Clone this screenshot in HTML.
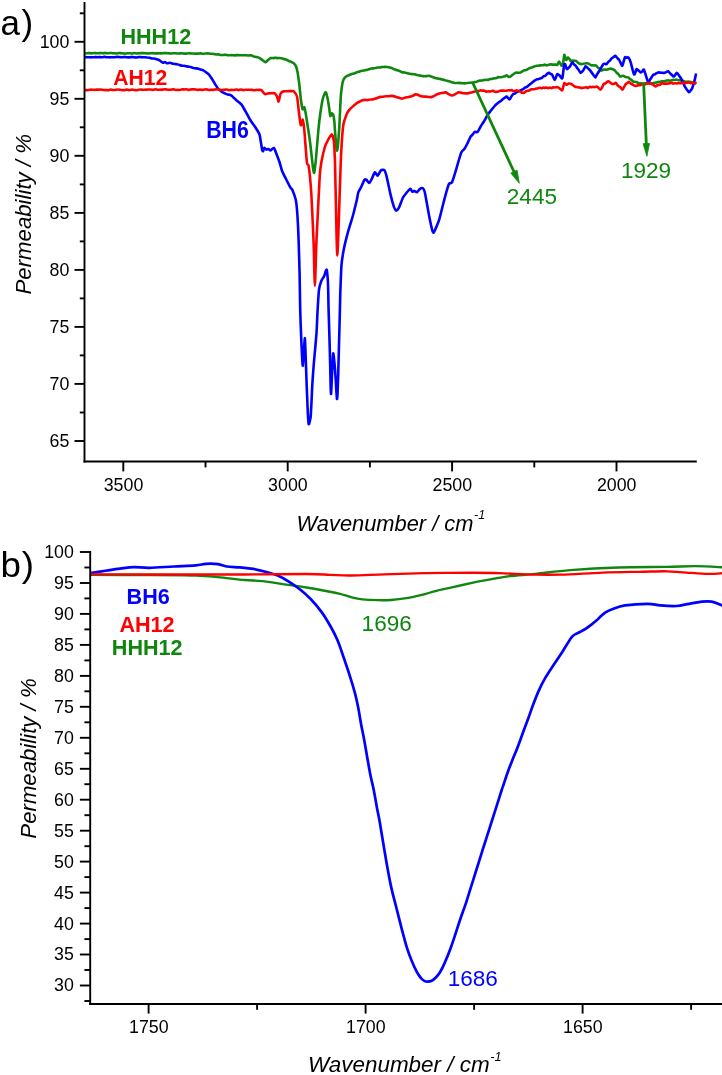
<!DOCTYPE html>
<html><head><meta charset="utf-8"><title>IR spectra</title>
<style>html,body{margin:0;padding:0;background:#fff}svg{display:block}text{font-family:"Liberation Sans",Arial,sans-serif}</style></head><body>
<svg width="722" height="1075" viewBox="0 0 722 1075">
<rect width="722" height="1075" fill="#fff"/>
<g id="panel-a">
<g>
<path d="M85.0 53.3 C85.2 53.3 86.7 53.2 87.2 53.2 C87.7 53.2 89.0 53.1 89.5 53.1 C90.0 53.1 91.2 53.4 91.7 53.4 C92.2 53.4 93.5 53.1 94.0 53.0 C94.5 53.0 95.7 53.3 96.2 53.3 C96.7 53.3 98.0 53.3 98.4 53.2 C98.9 53.2 100.2 53.0 100.7 53.0 C101.2 53.0 102.4 53.3 102.9 53.3 C103.4 53.3 104.7 53.0 105.2 53.0 C105.7 53.0 106.9 53.3 107.4 53.3 C107.9 53.3 109.2 53.1 109.7 53.0 C110.2 53.0 111.4 53.0 111.9 53.1 C112.4 53.1 113.6 53.2 114.1 53.3 C114.6 53.3 115.9 53.5 116.4 53.5 C116.9 53.5 118.1 53.1 118.6 53.1 C119.1 53.0 120.4 53.1 120.9 53.1 C121.4 53.2 122.6 53.3 123.1 53.4 C123.6 53.4 124.8 53.6 125.3 53.6 C125.8 53.6 127.1 53.4 127.6 53.3 C128.1 53.3 129.3 53.2 129.8 53.2 C130.3 53.3 131.6 53.6 132.1 53.6 C132.6 53.6 133.8 53.0 134.3 53.0 C134.8 53.0 136.1 53.5 136.6 53.5 C137.0 53.5 138.3 53.2 138.8 53.2 C139.3 53.1 140.5 53.1 141.0 53.1 C141.5 53.1 142.8 53.1 143.3 53.1 C143.8 53.1 145.0 53.1 145.5 53.2 C146.0 53.2 147.3 53.5 147.8 53.5 C148.3 53.5 149.5 53.3 150.0 53.3 C150.5 53.3 151.8 53.1 152.3 53.1 C152.8 53.1 154.1 53.3 154.6 53.4 C155.1 53.4 156.4 53.4 156.9 53.4 C157.4 53.4 158.7 53.3 159.2 53.3 C159.7 53.3 160.9 53.4 161.5 53.4 C162.0 53.4 163.2 53.1 163.8 53.1 C164.3 53.1 165.5 53.1 166.0 53.1 C166.6 53.1 167.8 53.1 168.3 53.2 C168.8 53.2 170.1 53.5 170.6 53.5 C171.1 53.5 172.4 53.4 172.9 53.3 C173.4 53.3 174.7 53.3 175.2 53.3 C175.7 53.3 177.0 53.4 177.5 53.5 C178.0 53.5 179.3 53.4 179.8 53.4 C180.3 53.4 181.6 53.3 182.1 53.3 C182.6 53.3 183.9 53.6 184.4 53.6 C184.9 53.6 186.2 53.6 186.7 53.6 C187.2 53.5 188.4 53.3 189.0 53.3 C189.5 53.3 190.7 53.5 191.2 53.5 C191.8 53.5 193.0 53.5 193.5 53.5 C194.1 53.5 195.3 53.7 195.8 53.7 C196.3 53.7 197.6 53.6 198.1 53.6 C198.6 53.6 199.9 53.3 200.4 53.4 C200.9 53.4 202.2 53.8 202.7 53.8 C203.2 53.8 204.4 53.5 205.0 53.5 C205.6 53.5 207.1 53.4 207.7 53.4 C208.3 53.4 209.7 53.7 210.3 53.7 C210.9 53.8 212.4 53.8 213.0 53.9 C213.6 54.0 215.1 54.4 215.7 54.4 C216.3 54.5 217.7 54.4 218.3 54.4 C218.9 54.5 220.4 54.9 221.0 55.0 C221.6 55.1 222.8 55.0 223.3 55.0 C223.8 55.0 225.1 54.8 225.6 54.8 C226.1 54.8 227.4 55.1 227.9 55.2 C228.4 55.2 229.7 55.3 230.2 55.3 C230.7 55.2 232.0 55.1 232.5 55.2 C233.1 55.2 234.3 55.4 234.8 55.4 C235.4 55.4 236.6 55.1 237.2 55.0 C237.7 55.0 238.9 55.3 239.5 55.3 C240.0 55.3 241.3 55.3 241.8 55.3 C242.3 55.3 243.6 55.3 244.1 55.3 C244.6 55.3 245.9 55.2 246.4 55.2 C246.9 55.3 248.2 55.5 248.7 55.5 C249.2 55.5 250.4 55.2 251.0 55.3 C251.6 55.4 253.2 56.3 253.8 56.5 C254.5 56.7 256.0 56.9 256.7 57.1 C257.3 57.3 258.8 57.6 259.5 58.0 C260.2 58.4 262.3 60.0 263.0 60.5 C263.7 61.0 265.1 62.3 265.7 62.2 C266.3 62.1 267.4 60.5 268.0 60.0 C268.6 59.5 270.4 58.2 271.0 58.0 C271.6 57.8 272.8 58.1 273.2 58.1 C273.8 58.1 275.0 57.7 275.5 57.7 C276.0 57.7 277.2 58.1 277.8 58.1 C278.2 58.2 279.4 57.9 280.0 58.0 C280.6 58.1 282.3 58.7 283.0 58.8 C283.7 59.0 285.4 59.3 286.0 59.5 C286.6 59.7 287.8 60.6 288.4 60.8 C288.9 61.1 290.1 61.3 290.7 61.6 C291.3 61.9 293.4 63.0 294.0 63.5 C294.6 64.0 295.6 65.5 296.0 66.4 C296.4 67.3 297.2 70.3 297.5 72.0 C297.8 73.7 298.6 79.1 299.0 82.0 C299.4 84.9 300.4 95.2 300.7 98.0 C301.0 100.8 301.8 105.7 302.0 107.0 C302.2 108.3 302.5 109.3 302.7 109.4 C302.9 109.5 303.4 108.2 303.6 108.0 C303.8 107.8 304.1 106.6 304.4 107.3 C304.7 108.0 305.5 112.2 305.9 114.5 C306.3 116.8 307.5 125.0 308.0 128.0 C308.5 131.0 309.4 137.1 310.0 141.6 C310.6 146.1 312.6 165.1 313.1 168.6 C313.6 172.1 313.9 173.4 314.2 172.7 C314.5 172.0 315.1 167.0 315.6 162.4 C316.1 157.8 317.8 136.6 318.3 131.0 C318.8 125.4 320.0 115.4 320.5 112.0 C321.0 108.6 322.1 102.0 322.5 100.0 C322.9 98.0 324.1 94.8 324.5 94.0 C324.9 93.2 325.6 91.8 326.0 92.4 C326.4 93.0 327.3 97.2 327.7 99.0 C328.1 100.8 329.0 107.1 329.3 109.0 C329.6 110.9 330.0 115.5 330.3 116.0 C330.6 116.5 331.5 113.4 331.8 113.3 C332.1 113.2 333.0 114.1 333.3 115.0 C333.6 115.9 334.1 119.2 334.3 121.0 C334.5 122.8 334.8 128.2 335.0 131.0 C335.2 133.8 336.0 143.8 336.2 146.0 C336.4 148.2 336.8 151.0 337.0 151.0 C337.2 151.0 337.7 148.4 337.9 146.0 C338.1 143.6 338.9 133.2 339.2 129.0 C339.5 124.8 340.0 111.9 340.2 108.0 C340.4 104.1 340.7 96.9 341.0 94.0 C341.3 91.1 342.3 83.8 342.7 82.0 C343.1 80.2 344.0 78.7 344.5 78.0 C345.0 77.3 346.1 76.5 346.8 76.1 C347.5 75.7 350.2 74.5 351.0 74.2 C351.8 73.9 353.3 73.6 354.0 73.4 C354.7 73.2 356.4 72.4 357.0 72.2 C357.6 72.0 359.1 71.6 359.7 71.4 C360.3 71.2 361.7 70.9 362.3 70.8 C362.9 70.7 364.4 70.3 365.0 70.2 C365.6 70.1 367.0 69.9 367.6 69.7 C368.2 69.5 369.7 68.9 370.3 68.7 C370.9 68.6 372.3 68.5 372.9 68.4 C373.5 68.3 374.7 68.1 375.3 68.0 C375.8 67.9 377.1 67.6 377.6 67.5 C378.2 67.5 379.5 67.5 380.0 67.4 C380.5 67.3 381.9 67.1 382.5 67.0 C383.0 67.0 384.4 66.9 384.9 66.9 C385.5 66.9 386.7 66.9 387.4 67.0 C388.1 67.1 390.8 67.7 391.6 68.0 C392.4 68.3 393.7 69.0 394.3 69.3 C394.9 69.5 396.4 70.0 397.0 70.2 C397.6 70.4 398.9 70.8 399.5 71.0 C400.1 71.2 401.4 72.0 402.0 72.2 C402.6 72.4 404.0 72.4 404.6 72.5 C405.1 72.6 406.6 72.9 407.1 73.1 C407.7 73.2 409.2 73.7 409.7 73.8 C410.3 74.0 411.7 74.0 412.3 74.1 C412.9 74.2 414.3 74.2 414.9 74.3 C415.5 74.5 416.9 74.9 417.5 75.1 C418.1 75.2 419.5 75.5 420.1 75.6 C420.7 75.7 422.1 76.0 422.7 76.1 C423.3 76.2 425.2 76.2 425.9 76.1 C426.6 76.1 428.3 75.6 429.0 75.7 C429.7 75.8 431.2 76.6 431.8 76.8 C432.4 77.0 433.9 77.5 434.5 77.7 C435.1 77.9 436.7 78.3 437.3 78.4 C437.9 78.5 439.3 78.8 439.9 78.9 C440.5 79.0 441.9 79.5 442.5 79.6 C443.1 79.7 444.5 80.0 445.1 80.2 C445.7 80.3 447.1 80.7 447.7 80.9 C448.3 81.1 449.9 81.6 450.5 81.8 C451.1 82.0 452.6 82.4 453.2 82.6 C453.8 82.7 455.4 83.0 456.0 83.0 C456.6 83.0 458.2 82.9 458.8 82.9 C459.4 82.9 460.9 83.0 461.5 83.1 C462.1 83.1 463.7 83.4 464.3 83.4 C464.9 83.4 466.5 83.0 467.1 83.0 C467.7 82.9 469.2 82.7 469.8 82.7 C470.4 82.7 472.1 82.7 472.6 82.6 C473.1 82.5 473.9 82.3 474.3 82.2 C474.7 82.1 475.7 82.0 476.1 81.9 C476.5 81.8 477.4 81.4 477.8 81.2 C478.2 81.1 479.1 80.6 479.5 80.6 C479.9 80.5 480.9 80.6 481.3 80.6 C481.7 80.6 482.6 80.4 483.0 80.3 C483.4 80.2 484.4 79.9 484.8 79.9 C485.1 79.8 486.1 79.8 486.5 79.8 C486.9 79.8 487.9 79.9 488.2 79.9 C488.6 79.8 489.6 79.2 490.0 79.1 C490.4 79.0 491.3 79.1 491.7 79.0 C492.0 78.9 493.0 78.6 493.3 78.5 C493.7 78.4 494.6 78.4 495.0 78.3 C495.4 78.3 496.3 78.2 496.7 78.1 C497.0 77.9 498.0 77.2 498.3 77.1 C498.7 77.1 499.6 77.3 500.0 77.3 C500.4 77.3 501.3 77.3 501.6 77.2 C502.0 77.2 502.9 76.7 503.3 76.6 C503.7 76.5 504.6 76.4 505.0 76.3 C505.3 76.1 506.2 75.4 506.6 75.4 C507.0 75.4 507.9 76.3 508.2 76.5 C508.6 76.7 509.5 77.1 509.9 77.0 C510.3 76.9 511.2 75.9 511.6 75.6 C511.9 75.3 512.9 74.6 513.2 74.4 C513.6 74.1 514.5 73.4 514.9 73.2 C515.3 73.0 516.4 72.6 516.8 72.5 C517.3 72.5 518.3 72.8 518.8 72.8 C519.2 72.8 520.3 72.6 520.7 72.4 C521.1 72.2 522.2 71.4 522.7 71.1 C523.1 70.9 524.2 70.4 524.6 70.3 C525.1 70.2 526.2 70.1 526.6 69.9 C527.0 69.7 527.9 69.1 528.2 68.9 C528.6 68.6 529.5 68.2 529.9 68.1 C530.3 67.9 531.2 67.6 531.6 67.5 C531.9 67.4 532.8 67.0 533.2 66.9 C533.6 66.8 534.5 66.3 534.9 66.2 C535.2 66.0 536.2 65.9 536.5 65.8 C536.9 65.8 537.8 65.7 538.2 65.7 C538.6 65.6 539.5 65.4 539.9 65.4 C540.2 65.3 541.2 65.4 541.5 65.3 C541.9 65.3 542.8 65.3 543.2 65.2 C543.6 65.1 544.5 64.6 544.9 64.6 C545.2 64.6 546.2 65.3 546.5 65.4 C546.9 65.4 547.8 65.1 548.2 65.0 C548.6 64.9 549.5 64.5 549.9 64.4 C550.2 64.4 551.2 64.4 551.5 64.4 C551.9 64.5 552.8 64.6 553.2 64.6 C553.6 64.6 554.8 64.6 555.2 64.6 C555.7 64.6 556.9 65.2 557.3 64.9 C557.7 64.6 558.5 61.5 559.0 61.6 C559.5 61.7 561.0 65.5 561.5 65.7 C562.0 65.9 562.8 64.4 563.1 63.2 C563.4 62.0 564.0 55.3 564.3 54.9 C564.6 54.5 565.7 59.6 566.1 59.9 C566.5 60.2 567.6 57.3 568.1 57.4 C568.6 57.5 570.1 60.3 570.6 60.7 C571.1 61.1 572.2 60.6 572.7 60.6 C573.2 60.6 574.4 60.6 574.8 60.7 C575.2 60.8 576.1 60.9 576.4 61.2 C576.8 61.4 577.7 62.5 578.1 62.8 C578.5 63.0 579.4 63.6 579.8 63.8 C580.1 63.9 581.0 64.1 581.4 64.1 C581.8 64.1 582.7 63.8 583.1 63.8 C583.4 63.7 584.4 63.5 584.7 63.5 C585.1 63.4 586.0 63.2 586.4 63.2 C586.8 63.2 587.7 63.4 588.1 63.5 C588.4 63.6 589.4 64.1 589.7 64.3 C590.1 64.5 591.0 65.3 591.4 65.4 C591.8 65.5 592.7 65.3 593.1 65.3 C593.4 65.3 594.4 65.3 594.7 65.4 C595.1 65.4 596.0 65.4 596.4 65.7 C596.8 66.0 597.7 67.4 598.0 67.7 C598.4 68.0 599.3 68.4 599.7 68.7 C600.0 69.0 600.9 70.6 601.3 70.7 C601.7 70.8 602.7 69.8 603.1 69.7 C603.6 69.5 604.6 69.6 605.0 69.6 C605.4 69.6 606.5 69.8 606.9 69.7 C607.4 69.7 608.4 69.1 608.9 69.0 C609.3 68.8 610.4 68.6 610.8 68.6 C611.2 68.6 612.4 69.1 612.9 69.3 C613.4 69.5 614.6 70.3 615.0 70.7 C615.4 71.1 616.3 72.3 616.7 72.7 C617.0 73.1 618.0 73.7 618.3 74.1 C618.7 74.5 619.6 76.3 620.0 76.5 C620.4 76.7 621.3 76.2 621.6 76.1 C622.0 76.0 622.9 75.6 623.3 75.7 C623.7 75.8 624.6 76.6 625.0 76.8 C625.3 76.9 626.3 77.1 626.6 77.2 C627.0 77.3 627.9 77.2 628.3 77.4 C628.7 77.6 629.6 78.7 629.9 79.0 C630.3 79.2 631.2 79.6 631.6 79.9 C631.9 80.2 632.8 81.3 633.2 81.5 C633.6 81.7 634.5 81.7 634.9 81.8 C635.2 81.8 636.2 81.9 636.5 82.0 C636.9 82.2 637.9 82.9 638.2 83.1 C638.6 83.2 639.5 83.2 639.9 83.2 C640.3 83.2 641.2 83.2 641.6 83.3 C641.9 83.3 642.9 83.6 643.2 83.6 C643.6 83.6 644.5 83.3 644.9 83.2 C645.2 83.2 646.2 83.1 646.5 83.2 C646.9 83.2 647.8 83.5 648.2 83.5 C648.6 83.5 649.5 83.6 649.9 83.6 C650.2 83.5 651.2 83.5 651.5 83.5 C651.9 83.4 652.8 83.1 653.2 83.1 C653.6 83.0 654.5 82.8 654.9 82.7 C655.2 82.7 656.2 82.6 656.5 82.5 C656.9 82.4 657.8 82.0 658.2 81.9 C658.6 81.8 659.5 82.0 659.9 82.0 C660.2 81.9 661.1 81.3 661.5 81.3 C661.9 81.2 662.8 81.4 663.2 81.4 C663.5 81.4 664.5 81.2 664.8 81.1 C665.2 81.0 666.1 80.6 666.5 80.6 C666.9 80.5 667.8 80.4 668.1 80.4 C668.5 80.4 669.4 80.7 669.8 80.7 C670.2 80.7 671.1 80.3 671.5 80.2 C671.8 80.1 672.8 79.9 673.1 79.9 C673.5 79.8 674.5 80.0 674.8 80.0 C675.2 80.0 676.1 79.5 676.5 79.5 C676.9 79.5 677.8 80.2 678.1 80.3 C678.5 80.3 679.4 80.0 679.8 80.0 C680.2 80.1 681.1 80.8 681.5 80.8 C681.8 80.9 682.7 80.6 683.1 80.7 C683.5 80.8 684.4 81.4 684.8 81.5 C685.1 81.7 686.1 81.9 686.4 81.9 C686.8 81.9 687.7 81.6 688.1 81.6 C688.5 81.6 689.4 81.8 689.8 81.8 C690.1 81.9 691.0 82.1 691.4 82.2 C691.8 82.2 692.7 82.4 693.1 82.5 C693.4 82.6 694.4 82.7 694.7 82.8 C695.1 83.0 696.2 83.4 696.4 83.5" fill="none" stroke="#0f870f" stroke-width="2.60" stroke-linejoin="round"/>
<path d="M85.0 57.1 C85.3 57.1 86.9 57.1 87.5 57.2 C88.1 57.2 89.4 57.3 90.0 57.3 C90.6 57.4 91.9 57.3 92.5 57.3 C93.1 57.3 94.4 57.1 95.0 57.1 C95.6 57.1 96.9 57.2 97.5 57.2 C98.1 57.2 99.5 57.1 100.0 57.1 C100.5 57.1 101.7 57.3 102.2 57.3 C102.7 57.3 104.0 56.9 104.4 56.9 C104.9 56.8 106.2 57.1 106.7 57.2 C107.2 57.3 108.4 57.3 108.9 57.3 C109.4 57.4 110.6 57.3 111.1 57.3 C111.6 57.3 112.8 57.3 113.3 57.3 C113.8 57.2 115.1 57.1 115.6 57.1 C116.0 57.0 117.3 56.9 117.8 56.9 C118.3 56.9 119.5 57.1 120.0 57.1 C120.5 57.1 121.7 57.3 122.2 57.3 C122.7 57.3 123.9 57.0 124.4 57.0 C124.9 57.0 126.1 57.3 126.6 57.3 C127.1 57.4 128.3 57.4 128.8 57.4 C129.3 57.4 130.5 57.1 131.0 57.1 C131.5 57.1 132.7 57.1 133.2 57.1 C133.7 57.1 134.9 57.4 135.4 57.4 C135.9 57.5 137.1 57.4 137.6 57.3 C138.1 57.3 139.3 57.0 139.8 57.0 C140.3 57.0 141.5 57.2 142.0 57.2 C142.5 57.2 144.1 57.2 144.7 57.2 C145.3 57.2 146.7 57.4 147.3 57.5 C147.9 57.5 149.4 57.8 150.0 57.9 C150.6 58.0 151.9 58.5 152.5 58.5 C153.1 58.6 154.3 58.5 155.0 58.7 C155.7 58.9 158.3 59.7 159.0 60.0 C159.7 60.3 160.6 61.2 161.0 61.5 C161.4 61.8 162.6 62.7 163.0 62.8 C163.4 62.9 164.6 61.9 165.0 62.0 C165.4 62.1 166.4 63.2 167.0 63.3 C167.6 63.4 169.4 62.8 170.0 62.8 C170.6 62.8 171.9 63.5 172.5 63.6 C173.1 63.7 174.5 63.9 175.0 64.0 C175.5 64.1 176.8 64.1 177.2 64.2 C177.8 64.3 179.0 64.9 179.5 65.0 C180.0 65.2 181.2 65.5 181.8 65.6 C182.2 65.6 183.5 65.6 184.0 65.7 C184.5 65.8 186.1 66.3 186.7 66.4 C187.3 66.5 188.7 66.7 189.3 66.8 C189.9 66.9 191.4 67.3 192.0 67.5 C192.6 67.7 194.2 68.1 194.8 68.2 C195.5 68.3 197.0 68.5 197.7 68.6 C198.3 68.8 199.9 69.3 200.5 69.5 C201.1 69.7 202.2 70.0 202.8 70.2 C203.2 70.4 204.3 71.0 205.0 71.5 C205.7 72.0 208.2 73.9 209.0 74.7 C209.8 75.5 211.3 78.0 212.0 79.0 C212.7 80.0 214.3 82.9 215.0 84.0 C215.7 85.1 217.3 87.7 218.0 88.5 C218.7 89.3 220.2 90.7 221.0 91.3 C221.8 91.9 224.3 93.2 225.0 93.5 C225.7 93.8 226.8 94.3 227.3 94.4 C227.8 94.6 229.1 94.6 229.6 94.8 C230.1 95.0 231.5 95.6 232.0 96.0 C232.5 96.4 233.7 97.8 234.2 98.2 C234.7 98.7 235.8 99.8 236.4 100.3 C237.0 100.8 238.9 102.3 239.5 102.8 C240.1 103.3 241.5 104.5 242.0 105.2 C242.5 105.9 243.6 108.0 244.2 109.0 C244.8 110.0 246.3 112.8 247.0 114.0 C247.7 115.2 249.7 119.1 250.4 120.2 C251.1 121.3 252.4 123.1 252.9 123.9 C253.5 124.7 254.8 126.3 255.5 127.5 C256.2 128.7 258.9 132.8 259.5 134.5 C260.1 136.2 260.7 141.3 261.0 143.0 C261.3 144.7 262.0 149.1 262.2 150.0 C262.4 150.9 263.0 151.2 263.2 151.0 C263.4 150.8 264.0 148.1 264.3 147.9 C264.6 147.7 265.8 149.5 266.3 149.6 C266.8 149.7 267.9 148.9 268.4 149.0 C268.9 149.1 269.9 150.6 270.5 150.5 C271.1 150.4 273.1 147.6 273.8 148.0 C274.5 148.4 275.9 152.4 276.5 154.0 C277.1 155.6 278.9 160.1 279.5 162.0 C280.1 163.9 281.3 168.8 282.0 170.7 C282.7 172.6 285.1 177.2 286.0 179.0 C286.9 180.8 289.6 186.1 290.3 187.3 C291.0 188.5 291.8 188.6 292.4 190.0 C293.0 191.4 295.2 197.2 295.8 200.0 C296.4 202.8 297.1 210.6 297.4 215.0 C297.7 219.4 298.4 233.6 298.6 240.0 C298.8 246.4 299.4 265.2 299.6 273.0 C299.8 280.8 300.0 302.0 300.2 310.0 C300.4 318.0 301.2 338.8 301.5 345.0 C301.8 351.2 302.5 364.5 302.7 365.6 C302.9 366.7 303.4 358.0 303.6 355.0 C303.8 352.0 304.7 337.6 304.9 338.2 C305.1 338.8 305.6 355.0 305.8 360.0 C306.0 365.0 306.4 377.8 306.6 383.1 C306.8 388.4 307.4 403.5 307.6 408.0 C307.8 412.5 308.4 422.2 308.6 423.8 C308.8 425.4 309.4 422.8 309.6 422.0 C309.8 421.2 310.5 418.7 310.7 416.3 C310.9 413.9 311.4 403.7 311.6 400.0 C311.8 396.3 312.1 387.4 312.4 383.1 C312.7 378.8 313.5 367.0 314.0 361.5 C314.5 356.0 316.1 338.9 316.5 333.2 C316.9 327.5 317.3 314.8 317.6 310.0 C317.9 305.2 318.6 293.0 319.0 289.7 C319.4 286.4 320.9 282.1 321.5 280.6 C322.1 279.1 323.5 277.4 324.0 276.4 C324.5 275.4 325.3 272.2 325.6 271.5 C325.9 270.8 326.6 269.2 326.8 269.8 C327.0 270.4 327.4 274.8 327.6 277.0 C327.8 279.2 328.1 286.0 328.2 289.7 C328.3 293.4 328.4 303.3 328.6 310.0 C328.8 316.7 329.6 342.1 329.8 349.9 C330.0 357.7 330.4 375.1 330.5 380.0 C330.6 384.9 330.9 393.2 331.0 393.9 C331.1 394.6 331.4 388.1 331.5 386.0 C331.6 383.9 331.8 378.4 332.0 374.8 C332.2 371.2 332.9 354.4 333.2 353.5 C333.5 352.6 334.5 363.0 334.8 366.5 C335.1 370.0 335.8 381.4 336.0 385.0 C336.2 388.6 336.8 398.1 337.0 398.9 C337.2 399.7 337.5 394.7 337.6 392.0 C337.7 389.3 338.0 381.3 338.2 374.8 C338.4 368.3 339.1 340.4 339.3 333.2 C339.5 326.0 339.8 314.8 339.9 310.0 C340.0 305.2 340.2 295.0 340.4 290.0 C340.6 285.0 341.1 269.4 341.5 264.8 C341.9 260.2 343.3 251.9 344.0 248.2 C344.7 244.5 347.1 235.3 348.1 231.6 C349.1 227.9 352.1 218.5 353.1 215.0 C354.1 211.5 356.2 202.5 356.8 200.0 C357.4 197.5 357.8 193.8 358.3 192.4 C358.8 191.0 360.3 188.7 361.0 187.3 C361.7 185.9 363.9 180.7 364.5 179.9 C365.1 179.1 366.1 179.6 366.6 179.9 C367.1 180.2 368.7 183.1 369.3 183.0 C369.9 182.9 371.2 180.0 371.8 178.8 C372.4 177.6 374.3 172.5 374.9 172.2 C375.5 171.9 376.9 175.9 377.6 175.7 C378.3 175.5 380.1 171.1 380.8 170.5 C381.5 169.9 383.7 169.5 384.3 170.1 C384.9 170.7 385.7 173.0 386.4 175.7 C387.1 178.4 389.7 191.0 390.5 194.4 C391.3 197.8 393.0 204.1 393.6 205.9 C394.2 207.7 395.5 210.4 396.1 210.6 C396.7 210.8 398.0 209.4 398.8 207.9 C399.6 206.4 402.2 199.1 403.0 197.5 C403.8 195.9 405.3 194.4 406.1 193.4 C406.9 192.4 409.6 189.0 410.3 188.8 C411.0 188.6 411.8 191.5 412.3 191.7 C412.8 191.9 413.9 190.8 414.4 190.9 C414.9 191.0 416.3 192.5 416.9 192.3 C417.5 192.1 419.0 189.7 419.6 189.2 C420.2 188.7 422.1 187.9 422.7 188.2 C423.3 188.5 424.1 189.3 424.8 192.3 C425.5 195.3 428.2 211.0 429.0 215.2 C429.8 219.4 431.6 227.7 432.1 229.7 C432.6 231.7 433.1 232.9 433.5 232.8 C433.9 232.7 435.0 230.2 435.6 228.7 C436.2 227.2 438.4 222.2 439.3 219.3 C440.2 216.4 442.5 206.6 443.5 202.7 C444.5 198.8 447.8 186.6 448.7 184.4 C449.6 182.2 451.1 183.8 451.8 182.6 C452.5 181.4 453.9 176.9 454.9 173.6 C455.9 170.3 460.1 155.6 461.1 152.9 C462.1 150.2 463.6 150.1 464.3 149.1 C465.0 148.1 466.7 144.9 467.4 143.5 C468.1 142.1 469.9 137.8 470.5 136.8 C471.1 135.8 472.1 135.3 472.6 134.7 C473.1 134.2 474.2 132.1 474.7 131.8 C475.2 131.5 476.9 132.5 477.5 132.0 C478.1 131.5 479.9 127.9 480.4 127.0 C480.9 126.1 481.7 124.7 482.1 124.1 C482.4 123.6 483.4 122.4 483.8 121.8 C484.1 121.2 485.1 119.6 485.4 118.9 C485.8 118.3 486.7 116.5 487.1 115.8 C487.5 115.1 488.7 113.4 489.2 112.7 C489.7 112.1 490.8 110.6 491.3 110.0 C491.8 109.4 493.0 108.0 493.4 107.5 C493.8 107.0 494.6 106.0 495.0 105.6 C495.4 105.2 496.3 104.4 496.7 104.0 C497.0 103.7 498.0 102.9 498.3 102.6 C498.7 102.3 499.6 101.8 500.0 101.5 C500.4 101.2 501.3 100.6 501.6 100.3 C502.0 100.0 502.9 99.1 503.3 98.8 C503.7 98.5 504.6 97.9 505.0 97.7 C505.3 97.4 506.1 96.3 506.6 96.5 C507.1 96.7 509.1 99.5 509.6 99.5 C510.1 99.5 511.0 97.0 511.4 96.4 C511.9 95.8 512.9 94.3 513.3 94.0 C513.7 93.7 514.6 93.8 514.9 93.6 C515.3 93.4 516.2 92.4 516.6 92.2 C517.0 92.0 517.9 91.6 518.2 91.5 C518.6 91.3 519.5 90.9 519.9 90.7 C520.3 90.5 521.2 90.0 521.6 89.8 C521.9 89.6 522.9 89.4 523.2 89.1 C523.6 88.9 524.5 87.8 524.9 87.6 C525.2 87.4 526.2 87.3 526.5 87.1 C526.9 86.9 527.8 86.0 528.2 85.7 C528.6 85.4 529.5 84.7 529.9 84.4 C530.2 84.1 531.2 83.4 531.5 83.1 C531.9 82.8 532.9 82.0 533.2 81.7 C533.6 81.5 534.5 80.7 534.9 80.4 C535.3 80.1 536.2 79.5 536.5 79.4 C536.9 79.2 537.8 79.3 538.2 79.2 C538.6 79.1 539.5 78.5 539.9 78.4 C540.2 78.3 541.1 78.4 541.5 78.2 C541.9 78.0 543.0 76.6 543.4 76.4 C543.8 76.1 544.8 76.1 545.2 75.9 C545.7 75.6 546.7 74.2 547.1 73.9 C547.5 73.6 548.6 72.9 549.0 72.9 C549.4 72.9 550.3 73.7 550.6 73.9 C551.0 74.1 551.8 74.2 552.3 74.9 C552.8 75.6 554.2 80.0 554.8 79.9 C555.4 79.8 556.7 74.5 557.3 74.0 C557.9 73.5 559.2 75.2 559.8 75.7 C560.4 76.2 561.8 79.3 562.3 78.2 C562.8 77.1 563.7 67.3 564.0 65.7 C564.3 64.1 564.8 63.7 565.1 64.1 C565.4 64.5 566.3 68.8 566.8 69.1 C567.3 69.4 569.2 67.3 569.8 66.6 C570.4 65.9 571.8 62.7 572.3 62.4 C572.8 62.1 573.6 63.9 574.0 64.3 C574.3 64.6 575.2 65.3 575.6 65.7 C576.0 66.1 576.9 67.6 577.3 68.2 C577.6 68.7 578.6 69.8 578.9 70.3 C579.3 70.8 580.1 72.9 580.6 72.9 C581.1 72.9 582.5 71.4 583.1 70.7 C583.7 70.0 585.1 66.5 585.6 66.2 C586.1 65.9 587.2 67.7 587.7 68.1 C588.1 68.5 589.3 69.4 589.7 69.9 C590.1 70.4 591.2 71.9 591.6 72.5 C592.1 73.0 593.1 74.6 593.6 75.2 C594.0 75.7 595.1 77.5 595.5 77.4 C595.9 77.3 596.8 74.7 597.2 74.0 C597.6 73.4 598.5 72.2 598.9 71.5 C599.3 70.8 600.6 68.7 601.1 67.9 C601.6 67.0 602.9 64.5 603.3 64.1 C603.7 63.7 604.6 63.8 605.0 63.8 C605.3 63.8 606.2 64.3 606.6 64.1 C607.0 63.9 607.9 62.3 608.3 61.9 C608.6 61.5 609.6 60.9 609.9 60.5 C610.3 60.1 611.2 58.7 611.6 58.3 C612.0 57.9 613.0 57.3 613.5 57.1 C613.9 56.8 614.9 55.7 615.3 55.8 C615.7 55.9 616.8 57.5 617.2 57.9 C617.6 58.4 618.7 59.3 619.1 59.9 C619.5 60.5 620.4 62.4 620.8 63.1 C621.1 63.7 621.9 66.3 622.4 65.7 C622.9 65.1 624.4 58.3 624.9 57.4 C625.4 56.5 626.2 57.8 626.6 57.8 C627.0 57.8 627.8 56.9 628.3 57.4 C628.8 57.9 630.1 60.5 630.7 62.4 C631.3 64.3 633.4 73.8 634.1 74.5 C634.8 75.2 636.1 69.5 636.6 69.1 C637.1 68.7 638.2 70.3 638.7 70.7 C639.1 71.1 640.3 72.3 640.7 72.4 C641.1 72.5 642.0 71.5 642.4 71.3 C642.7 71.0 643.4 68.7 644.0 69.9 C644.6 71.1 647.5 81.3 648.2 82.4 C648.9 83.5 649.5 80.5 649.9 79.9 C650.2 79.4 651.2 78.0 651.5 77.4 C651.9 76.9 652.8 75.2 653.2 74.9 C653.6 74.6 654.5 74.5 654.9 74.3 C655.2 74.1 656.2 73.4 656.5 73.2 C656.9 73.0 657.8 72.5 658.2 72.4 C658.6 72.3 659.5 72.6 659.9 72.6 C660.2 72.6 661.2 72.7 661.5 72.7 C661.9 72.7 662.8 72.9 663.2 72.9 C663.6 72.9 664.5 72.9 664.8 72.8 C665.2 72.7 666.1 72.1 666.5 72.0 C666.8 71.8 667.7 71.0 668.1 71.2 C668.5 71.4 669.6 72.9 670.1 73.4 C670.5 73.8 671.6 74.8 672.0 75.2 C672.5 75.5 673.5 76.8 674.0 76.5 C674.5 76.2 676.2 73.0 676.8 72.9 C677.4 72.8 678.6 75.0 679.1 75.7 C679.6 76.4 680.8 77.8 681.4 79.0 C682.0 80.2 684.2 85.3 684.8 86.5 C685.4 87.7 686.4 88.8 686.8 89.5 C687.3 90.1 688.5 92.2 688.9 92.3 C689.3 92.4 690.2 91.2 690.5 90.7 C690.9 90.2 691.7 89.4 692.2 88.2 C692.7 87.0 694.3 81.5 694.7 79.9 C695.1 78.3 695.9 74.2 696.1 73.5" fill="none" stroke="#0000ff" stroke-width="2.60" stroke-linejoin="round"/>
<path d="M85.0 90.0 C85.3 90.0 86.8 90.3 87.3 90.3 C87.9 90.2 89.1 89.7 89.7 89.7 C90.2 89.6 91.5 89.6 92.0 89.7 C92.5 89.7 93.8 89.9 94.3 89.9 C94.9 89.9 96.1 89.6 96.7 89.6 C97.2 89.6 98.5 89.7 99.0 89.7 C99.5 89.7 100.8 89.5 101.3 89.6 C101.9 89.6 103.1 90.0 103.7 90.0 C104.2 90.1 105.5 90.1 106.0 90.1 C106.5 90.1 107.8 90.2 108.3 90.2 C108.9 90.1 110.1 89.6 110.7 89.6 C111.2 89.6 112.5 90.0 113.0 90.0 C113.5 90.1 114.8 90.0 115.3 90.0 C115.9 89.9 117.1 89.5 117.7 89.5 C118.2 89.5 119.5 89.7 120.0 89.8 C120.5 89.9 121.7 90.1 122.2 90.1 C122.7 90.1 124.0 90.2 124.4 90.2 C124.9 90.1 126.2 89.6 126.7 89.6 C127.2 89.6 128.4 90.1 128.9 90.1 C129.4 90.2 130.6 89.7 131.1 89.7 C131.6 89.6 132.8 89.7 133.3 89.8 C133.8 89.8 135.1 90.1 135.6 90.2 C136.0 90.2 137.3 90.1 137.8 90.0 C138.3 89.9 139.5 89.5 140.0 89.5 C140.5 89.4 141.7 89.7 142.2 89.7 C142.7 89.7 144.0 89.8 144.4 89.8 C144.9 89.7 146.2 89.6 146.7 89.6 C147.2 89.6 148.4 89.5 148.9 89.5 C149.4 89.5 150.6 89.5 151.1 89.6 C151.6 89.6 152.8 89.9 153.3 89.9 C153.8 89.9 155.1 89.3 155.6 89.3 C156.0 89.3 157.3 89.7 157.8 89.7 C158.3 89.8 159.5 89.7 160.0 89.7 C160.5 89.7 161.7 89.7 162.2 89.6 C162.7 89.6 164.0 89.3 164.4 89.3 C164.9 89.3 166.2 89.5 166.7 89.5 C167.2 89.6 168.4 89.8 168.9 89.8 C169.4 89.8 170.6 89.7 171.1 89.7 C171.6 89.6 172.8 89.3 173.3 89.3 C173.8 89.4 175.1 90.0 175.6 90.0 C176.0 90.1 177.3 89.9 177.8 89.9 C178.3 89.9 179.5 90.1 180.0 90.0 C180.5 90.0 181.7 89.4 182.2 89.3 C182.7 89.3 184.0 89.5 184.4 89.5 C184.9 89.4 186.2 89.2 186.7 89.3 C187.2 89.3 188.4 89.8 188.9 89.9 C189.4 89.9 190.6 89.5 191.1 89.4 C191.6 89.4 192.8 89.3 193.3 89.3 C193.8 89.3 195.1 89.5 195.6 89.5 C196.0 89.6 197.3 89.9 197.8 89.9 C198.3 89.9 199.5 89.6 200.0 89.6 C200.5 89.6 201.7 89.9 202.2 89.9 C202.7 89.9 204.0 89.5 204.4 89.5 C204.9 89.4 206.2 89.3 206.7 89.4 C207.2 89.4 208.4 90.0 208.9 90.0 C209.4 90.1 210.6 89.8 211.1 89.8 C211.6 89.8 212.8 89.9 213.3 89.9 C213.8 89.9 215.1 89.5 215.6 89.4 C216.0 89.4 217.3 89.4 217.8 89.4 C218.3 89.5 219.5 89.7 220.0 89.8 C220.5 89.9 221.8 90.0 222.3 90.0 C222.8 89.9 224.1 89.8 224.6 89.7 C225.1 89.7 226.4 89.4 226.9 89.5 C227.4 89.5 228.7 90.1 229.2 90.2 C229.7 90.2 231.0 89.9 231.5 89.9 C232.1 89.9 233.3 90.1 233.8 90.0 C234.4 90.0 235.6 89.5 236.2 89.5 C236.7 89.5 237.9 90.1 238.5 90.1 C239.0 90.1 240.3 89.5 240.8 89.5 C241.3 89.5 242.6 90.1 243.1 90.1 C243.6 90.1 244.9 89.8 245.4 89.8 C245.9 89.7 247.2 89.7 247.7 89.7 C248.2 89.7 249.5 89.8 250.0 89.8 C250.5 89.8 251.8 89.9 252.3 89.9 C252.8 90.0 254.1 90.3 254.6 90.3 C255.2 90.3 256.4 89.9 257.0 89.9 C257.5 89.8 258.8 89.8 259.3 89.8 C259.8 89.9 261.0 89.7 261.6 90.2 C262.2 90.7 264.1 93.6 264.7 94.0 C265.3 94.4 266.8 93.7 267.4 93.6 C267.9 93.5 269.4 93.3 270.0 93.2 C270.6 93.1 271.9 93.1 272.5 93.1 C273.1 93.1 274.5 93.0 275.0 93.4 C275.5 93.8 276.6 95.6 277.0 96.5 C277.4 97.4 278.2 101.9 278.6 101.7 C279.0 101.5 279.9 95.5 280.3 94.4 C280.7 93.3 281.9 92.0 282.4 91.7 C282.9 91.4 284.2 91.4 284.7 91.3 C285.2 91.3 286.5 91.3 287.0 91.3 C287.5 91.2 288.7 91.1 289.2 91.1 C289.7 91.1 291.0 91.1 291.5 91.1 C292.0 91.2 293.2 90.7 293.8 91.3 C294.4 91.9 296.4 94.1 297.0 96.5 C297.6 98.9 298.6 109.8 299.0 113.0 C299.4 116.2 300.4 123.9 300.7 125.0 C301.0 126.1 301.6 123.6 301.8 123.0 C302.0 122.4 302.5 119.5 302.7 119.6 C302.9 119.7 303.4 122.7 303.6 124.0 C303.8 125.3 304.0 126.7 304.4 131.0 C304.8 135.3 306.4 158.6 306.9 162.4 C307.4 166.2 308.2 163.9 308.5 165.5 C308.8 167.1 309.7 173.7 310.0 177.0 C310.3 180.3 311.0 188.0 311.4 195.0 C311.8 202.0 313.1 229.9 313.5 240.0 C313.9 250.1 314.6 285.6 314.9 285.6 C315.2 285.6 316.0 250.6 316.5 240.0 C317.0 229.4 318.6 197.9 319.0 190.0 C319.4 182.1 319.8 173.3 320.4 168.6 C321.0 163.9 323.8 150.9 324.6 147.8 C325.4 144.7 326.9 142.0 327.7 140.5 C328.5 139.0 331.1 134.2 331.8 134.3 C332.5 134.4 333.5 138.5 333.9 141.6 C334.3 144.7 334.8 157.0 335.0 162.4 C335.2 167.8 335.3 179.6 335.6 190.0 C335.9 200.4 336.8 255.6 337.3 255.6 C337.8 255.6 339.4 201.5 339.8 190.0 C340.2 178.5 340.8 159.2 341.2 152.0 C341.6 144.8 342.7 129.1 343.3 125.0 C343.9 120.9 345.8 116.5 346.4 114.9 C347.0 113.3 348.2 111.3 348.9 110.4 C349.6 109.5 351.7 107.4 352.6 106.6 C353.5 105.8 356.2 103.6 357.0 103.0 C357.8 102.4 359.1 101.8 359.8 101.5 C360.4 101.2 361.9 100.5 362.5 100.3 C363.1 100.1 364.5 99.9 365.1 99.9 C365.7 99.9 367.1 100.1 367.7 100.1 C368.3 100.0 369.7 99.5 370.3 99.5 C370.9 99.4 372.3 99.5 372.9 99.4 C373.5 99.3 375.1 98.8 375.7 98.6 C376.3 98.4 377.8 97.7 378.4 97.5 C379.0 97.3 380.6 97.0 381.2 96.9 C381.8 96.8 383.1 96.7 383.7 96.6 C384.2 96.5 385.6 96.2 386.2 96.2 C386.7 96.2 388.1 96.3 388.6 96.2 C389.2 96.2 390.6 95.9 391.1 95.9 C391.7 95.9 393.0 96.0 393.6 96.1 C394.2 96.2 395.8 96.9 396.4 97.1 C397.0 97.3 398.6 97.6 399.2 97.8 C399.8 98.0 401.4 98.6 402.0 98.6 C402.6 98.6 404.2 97.8 404.8 97.7 C405.4 97.5 406.9 97.3 407.5 97.2 C408.1 97.1 409.7 96.7 410.3 96.5 C410.9 96.3 412.3 96.0 412.9 95.8 C413.5 95.6 414.9 94.5 415.5 94.4 C416.1 94.3 417.4 94.6 417.9 94.8 C418.4 95.0 419.8 95.9 420.3 96.1 C420.8 96.2 422.1 96.4 422.7 96.5 C423.3 96.6 424.9 96.6 425.5 96.6 C426.1 96.7 427.6 96.8 428.2 96.9 C428.8 96.9 430.4 97.2 431.0 97.1 C431.6 97.0 433.2 96.4 433.8 96.1 C434.4 95.9 435.9 94.9 436.5 94.5 C437.1 94.2 438.6 93.6 439.3 93.4 C440.0 93.2 441.8 93.0 442.5 92.9 C443.2 92.8 444.9 92.3 445.6 92.4 C446.3 92.5 448.0 93.8 448.7 94.1 C449.4 94.4 451.1 95.5 451.8 95.5 C452.5 95.5 454.2 94.7 454.9 94.3 C455.6 94.0 457.3 92.6 458.0 92.4 C458.7 92.2 460.2 92.5 460.8 92.6 C461.4 92.7 462.9 93.2 463.5 93.3 C464.1 93.4 465.7 93.4 466.3 93.4 C466.9 93.4 468.2 93.2 468.8 93.1 C469.4 93.0 470.7 92.6 471.3 92.5 C471.9 92.4 473.2 92.0 473.8 91.8 C474.4 91.7 475.7 91.4 476.3 91.3 C476.9 91.2 478.3 91.0 478.8 90.9 C479.3 90.8 480.3 90.4 480.7 90.4 C481.1 90.4 482.1 90.6 482.5 90.6 C482.9 90.7 484.0 90.5 484.4 90.7 C484.8 90.8 485.9 91.6 486.3 91.7 C486.7 91.7 487.7 91.2 488.1 91.2 C488.5 91.1 489.6 91.6 490.0 91.6 C490.4 91.6 491.3 91.1 491.7 91.1 C492.0 91.0 493.0 90.8 493.3 90.9 C493.7 90.9 494.6 91.7 495.0 91.8 C495.3 91.9 496.3 91.8 496.6 91.7 C497.0 91.7 497.9 91.5 498.3 91.4 C498.7 91.3 499.6 90.8 500.0 90.8 C500.3 90.7 501.3 90.6 501.6 90.6 C502.0 90.6 502.9 90.6 503.3 90.6 C503.6 90.6 504.6 90.7 504.9 90.7 C505.3 90.7 506.2 90.8 506.6 90.7 C507.0 90.6 507.9 90.2 508.3 90.2 C508.6 90.1 509.6 90.5 509.9 90.5 C510.3 90.5 511.2 90.1 511.6 90.1 C512.0 90.2 512.9 90.9 513.3 91.0 C513.6 91.1 514.6 91.0 514.9 90.9 C515.3 90.8 516.2 90.2 516.6 90.2 C517.0 90.2 518.1 91.0 518.5 91.1 C519.0 91.3 520.0 91.4 520.5 91.6 C520.9 91.8 522.0 92.7 522.4 92.8 C522.8 92.9 523.9 92.9 524.3 92.7 C524.8 92.5 525.8 91.4 526.3 91.1 C526.7 90.9 527.8 90.8 528.2 90.7 C528.6 90.6 529.5 90.3 529.9 90.1 C530.2 89.9 531.2 89.3 531.5 89.2 C531.9 89.1 532.8 89.3 533.2 89.3 C533.6 89.3 534.5 89.1 534.9 89.0 C535.2 88.9 536.2 88.7 536.5 88.6 C536.9 88.5 537.8 88.3 538.2 88.2 C538.6 88.1 539.5 87.8 539.9 87.8 C540.2 87.8 541.2 88.2 541.5 88.2 C541.9 88.2 542.8 87.6 543.2 87.5 C543.6 87.5 544.5 87.9 544.9 87.9 C545.2 87.9 546.1 87.6 546.5 87.6 C546.9 87.7 547.8 88.1 548.2 88.1 C548.5 88.1 549.5 87.6 549.8 87.6 C550.2 87.6 551.1 88.2 551.5 88.2 C551.9 88.2 552.8 87.4 553.1 87.3 C553.5 87.2 554.4 87.5 554.8 87.5 C555.2 87.5 556.1 87.2 556.5 87.2 C556.8 87.1 557.7 87.1 558.1 87.3 C558.5 87.5 559.7 88.5 560.2 88.9 C560.7 89.2 561.8 90.8 562.3 90.2 C562.8 89.6 563.8 83.8 564.3 83.2 C564.8 82.6 565.9 84.8 566.4 84.8 C566.9 84.8 568.3 83.6 568.9 83.5 C569.5 83.4 570.9 83.8 571.4 84.0 C571.9 84.2 572.7 85.0 573.1 85.3 C573.5 85.6 574.4 86.3 574.8 86.5 C575.2 86.7 576.1 87.0 576.5 87.1 C576.8 87.2 577.8 87.2 578.1 87.2 C578.5 87.3 579.4 87.5 579.8 87.6 C580.1 87.7 581.1 88.0 581.4 88.1 C581.8 88.1 582.7 87.9 583.1 87.8 C583.5 87.7 584.4 87.5 584.8 87.5 C585.1 87.4 586.0 87.2 586.4 87.2 C586.8 87.3 587.7 88.0 588.0 88.0 C588.4 87.9 589.3 86.7 589.7 86.7 C590.1 86.6 591.0 87.3 591.4 87.3 C591.7 87.3 592.6 86.8 593.0 86.8 C593.4 86.8 594.3 87.2 594.7 87.2 C595.0 87.1 596.0 86.5 596.3 86.5 C596.7 86.5 597.5 86.9 598.0 87.3 C598.5 87.7 600.0 89.8 600.5 89.8 C601.0 89.8 601.8 88.0 602.1 87.4 C602.5 86.7 603.4 84.4 603.8 84.0 C604.2 83.6 605.1 83.7 605.5 83.4 C605.9 83.2 606.9 82.0 607.2 81.8 C607.5 81.6 607.9 81.1 608.3 81.2 C608.7 81.3 609.9 82.5 610.4 82.8 C610.9 83.1 612.1 83.9 612.5 84.0 C612.9 84.1 613.8 83.9 614.1 83.8 C614.5 83.6 615.4 82.7 615.8 82.9 C616.2 83.1 617.1 84.7 617.5 85.1 C617.8 85.5 618.7 86.2 619.1 86.5 C619.5 86.8 620.4 87.3 620.8 87.7 C621.1 88.0 622.0 89.9 622.4 89.8 C622.8 89.7 623.7 87.6 624.1 86.9 C624.5 86.3 625.4 84.4 625.8 84.0 C626.2 83.6 627.1 83.2 627.5 83.0 C627.8 82.7 628.7 81.8 629.1 81.9 C629.5 82.0 630.6 83.3 631.0 83.6 C631.5 83.9 632.5 84.6 633.0 84.8 C633.4 85.1 634.5 85.6 634.9 85.7 C635.3 85.8 636.2 85.9 636.5 85.8 C636.9 85.8 637.8 85.3 638.2 85.2 C638.6 85.2 639.5 85.4 639.9 85.3 C640.2 85.3 641.1 84.6 641.5 84.5 C641.9 84.4 642.8 84.6 643.2 84.5 C643.6 84.5 644.5 84.5 644.9 84.4 C645.2 84.3 646.2 83.7 646.5 83.5 C646.9 83.4 647.8 83.1 648.2 83.1 C648.6 83.1 649.5 83.4 649.9 83.5 C650.3 83.6 651.4 83.8 651.8 84.0 C652.3 84.2 653.3 85.0 653.8 85.3 C654.2 85.6 655.3 86.5 655.7 86.5 C656.1 86.5 657.2 85.1 657.6 85.0 C658.1 84.8 659.1 85.1 659.6 85.0 C660.0 84.8 661.1 83.7 661.5 83.5 C661.9 83.3 662.8 83.5 663.2 83.5 C663.5 83.6 664.5 83.6 664.8 83.6 C665.2 83.6 666.1 83.6 666.5 83.6 C666.9 83.6 667.8 83.6 668.1 83.6 C668.5 83.6 669.4 83.4 669.8 83.3 C670.2 83.2 671.1 82.6 671.5 82.6 C671.8 82.6 672.8 83.6 673.1 83.6 C673.5 83.7 674.4 83.2 674.8 83.2 C675.2 83.2 676.1 83.5 676.5 83.5 C676.8 83.5 677.8 83.2 678.1 83.2 C678.5 83.1 679.4 83.2 679.8 83.2 C680.2 83.2 681.1 83.4 681.4 83.3 C681.8 83.2 682.7 82.5 683.1 82.5 C683.5 82.5 684.4 83.4 684.8 83.4 C685.1 83.4 686.1 82.8 686.4 82.7 C686.8 82.6 687.7 82.4 688.1 82.4 C688.5 82.4 689.4 82.6 689.8 82.7 C690.1 82.8 691.0 83.3 691.4 83.3 C691.8 83.3 692.7 82.5 693.1 82.5 C693.4 82.5 694.4 83.2 694.7 83.2 C695.1 83.3 696.2 82.9 696.4 82.9" fill="none" stroke="#ff0000" stroke-width="2.60" stroke-linejoin="round"/>
</g>
<g stroke="#000" stroke-width="1.9" fill="none" stroke-linecap="butt">
<line x1="84.5" y1="1.9" x2="84.5" y2="462.5"/>
<line x1="83.5" y1="461.5" x2="696.8" y2="461.5"/>
<line x1="74.5" y1="441.0" x2="84.5" y2="441.0"/>
<line x1="74.5" y1="383.9" x2="84.5" y2="383.9"/>
<line x1="74.5" y1="326.9" x2="84.5" y2="326.9"/>
<line x1="74.5" y1="269.9" x2="84.5" y2="269.9"/>
<line x1="74.5" y1="212.9" x2="84.5" y2="212.9"/>
<line x1="74.5" y1="155.8" x2="84.5" y2="155.8"/>
<line x1="74.5" y1="98.8" x2="84.5" y2="98.8"/>
<line x1="74.5" y1="41.8" x2="84.5" y2="41.8"/>
<line x1="79.8" y1="412.5" x2="84.5" y2="412.5"/>
<line x1="79.8" y1="355.4" x2="84.5" y2="355.4"/>
<line x1="79.8" y1="298.4" x2="84.5" y2="298.4"/>
<line x1="79.8" y1="241.4" x2="84.5" y2="241.4"/>
<line x1="79.8" y1="184.4" x2="84.5" y2="184.4"/>
<line x1="79.8" y1="127.3" x2="84.5" y2="127.3"/>
<line x1="79.8" y1="70.3" x2="84.5" y2="70.3"/>
<line x1="79.8" y1="13.3" x2="84.5" y2="13.3"/>
<line x1="123.3" y1="461.5" x2="123.3" y2="471.4"/>
<line x1="287.7" y1="461.5" x2="287.7" y2="471.4"/>
<line x1="452.1" y1="461.5" x2="452.1" y2="471.4"/>
<line x1="616.5" y1="461.5" x2="616.5" y2="471.4"/>
<line x1="205.5" y1="461.5" x2="205.5" y2="467.4"/>
<line x1="369.9" y1="461.5" x2="369.9" y2="467.4"/>
<line x1="534.3" y1="461.5" x2="534.3" y2="467.4"/>
</g>
<g font-size="17.8" fill="#000">
<text x="69.3" y="447.3" text-anchor="end">65</text>
<text x="69.3" y="390.2" text-anchor="end">70</text>
<text x="69.3" y="333.2" text-anchor="end">75</text>
<text x="69.3" y="276.2" text-anchor="end">80</text>
<text x="69.3" y="219.2" text-anchor="end">85</text>
<text x="69.3" y="162.2" text-anchor="end">90</text>
<text x="69.3" y="105.1" text-anchor="end">95</text>
<text x="69.3" y="48.1" text-anchor="end">100</text>
<text x="123.5" y="490.8" text-anchor="middle">3500</text>
<text x="287.9" y="490.8" text-anchor="middle">3000</text>
<text x="452.3" y="490.8" text-anchor="middle">2500</text>
<text x="616.7" y="490.8" text-anchor="middle">2000</text>
</g>
<text x="296.6" y="530.5" font-size="21.85" font-style="italic" fill="#000">Wavenumber / cm<tspan font-size="12.6" dy="-11.8" dx="0.6">-1</tspan></text>
<text transform="translate(31,214.3) rotate(-90)" font-size="22.2" font-style="italic" text-anchor="middle" fill="#000">Permeability / %</text>
<text x="0.6" y="35.1" font-size="35" fill="#000">a<tspan dx="1.4">)</tspan></text>
<text transform="translate(155.8 44.3) scale(0.950 1)" font-size="22.7" font-weight="bold" fill="#0f870f" text-anchor="middle">HHH12</text>
<text transform="translate(140.2 84.9) scale(0.980 1)" font-size="21.6" font-weight="bold" fill="#ff0000" text-anchor="middle">AH12</text>
<text transform="translate(227.5 137.8) scale(0.915 1)" font-size="23.3" font-weight="bold" fill="#0000ff" text-anchor="middle">BH6</text>
<line x1="472.6" y1="82.5" x2="514.8" y2="173.5" stroke="#0f870f" stroke-width="2.8"/><polygon points="519.3,183.3 510.8,173.1 517.1,170.2" fill="#0f870f" stroke="#0f870f" stroke-width="0.8" stroke-linejoin="round"/>
<line x1="643.6" y1="83.0" x2="646.4" y2="145.5" stroke="#0f870f" stroke-width="2.8"/><polygon points="646.9,156.3 643.1,143.7 649.5,143.4" fill="#0f870f" stroke="#0f870f" stroke-width="0.8" stroke-linejoin="round"/>
<text transform="translate(531.9 204.3) scale(0.990 1)" font-size="22.8" fill="#0f870f" text-anchor="middle">2445</text>
<text transform="translate(646.0 177.6) scale(0.990 1)" font-size="22.8" fill="#0f870f" text-anchor="middle">1929</text>
</g>
<g id="panel-b">
<path d="M90.3 574.9 C100.2 574.9 134.2 575.0 150.0 575.0 C165.8 575.0 176.7 575.1 185.0 575.2 C193.3 575.3 194.5 575.5 200.0 575.8 C205.5 576.1 210.6 576.4 218.0 577.1 C225.4 577.8 237.2 579.3 244.6 580.0 C252.0 580.7 255.6 580.4 262.2 581.1 C268.8 581.8 276.9 583.3 284.3 584.4 C291.7 585.5 299.1 586.3 306.5 587.5 C313.9 588.7 323.0 590.5 328.6 591.5 C334.2 592.5 336.3 592.9 340.0 593.8 C343.7 594.7 347.3 596.2 351.0 597.1 C354.7 598.0 357.8 598.8 362.2 599.3 C366.6 599.8 372.9 600.1 377.7 600.2 C382.5 600.3 386.2 600.3 391.0 600.0 C395.8 599.7 401.3 599.1 406.5 598.2 C411.7 597.4 417.2 596.1 422.0 594.9 C426.8 593.7 430.5 592.3 435.3 591.1 C440.1 589.9 444.5 589.0 450.8 587.6 C457.1 586.2 466.4 584.1 473.0 582.7 C479.6 581.3 484.6 580.5 490.7 579.4 C496.8 578.3 501.9 577.1 509.3 576.2 C516.7 575.3 524.8 574.9 535.0 573.9 C545.2 572.9 556.4 571.2 570.3 570.1 C584.2 569.0 602.4 568.0 618.5 567.5 C634.6 567.0 653.8 567.1 666.7 566.9 C679.6 566.7 686.3 566.1 695.7 566.2 C705.1 566.3 718.5 567.1 723.0 567.3" fill="none" stroke="#0f870f" stroke-width="2.35" stroke-linejoin="round"/>
<path d="M90.3 573.2 C93.1 572.8 102.2 571.3 107.2 570.5 C112.2 569.7 115.6 569.1 120.0 568.6 C124.4 568.1 128.9 567.3 133.8 567.2 C138.7 567.1 142.7 567.9 149.3 567.8 C156.0 567.7 165.9 566.9 173.7 566.5 C181.4 566.1 190.5 565.9 195.8 565.4 C201.2 564.9 202.1 564.0 205.8 563.8 C209.5 563.6 214.5 563.6 218.0 564.1 C221.5 564.6 223.2 566.0 226.9 566.5 C230.6 567.0 235.6 567.0 240.0 567.4 C244.4 567.8 248.9 568.1 253.3 568.9 C257.7 569.7 262.5 570.9 266.6 572.0 C270.7 573.1 274.0 574.0 277.7 575.6 C281.4 577.2 285.1 579.3 288.8 581.6 C292.5 583.9 296.1 586.3 299.8 589.3 C303.5 592.2 307.2 595.4 310.9 599.3 C314.6 603.2 318.7 608.0 322.0 612.6 C325.3 617.2 328.3 622.4 330.9 627.0 C333.5 631.6 335.4 635.3 337.5 640.3 C339.6 645.2 341.3 650.6 343.4 656.7 C345.5 662.8 348.2 670.6 350.1 676.8 C352.1 682.9 353.8 688.6 355.1 693.6 C356.4 698.6 357.1 702.0 358.1 707.0 C359.1 712.0 360.0 718.1 361.0 723.7 C362.0 729.3 363.3 734.9 364.3 740.5 C365.3 746.1 366.2 751.6 367.2 757.2 C368.2 762.8 369.1 768.4 370.2 774.0 C371.3 779.6 372.8 785.1 373.9 790.7 C375.0 796.3 376.0 802.6 376.9 807.5 C377.8 812.4 378.6 815.7 379.4 820.0 C380.2 824.3 380.4 826.2 381.6 833.3 C382.8 840.4 384.9 853.3 386.5 862.4 C388.1 871.5 389.7 880.2 391.3 887.6 C392.9 895.0 394.5 900.2 396.2 907.0 C397.9 913.8 399.8 921.5 401.6 928.3 C403.4 935.1 405.2 942.2 406.9 947.7 C408.6 953.2 410.2 957.3 411.9 961.3 C413.5 965.3 415.3 969.1 416.8 971.9 C418.3 974.7 419.6 976.5 420.9 978.0 C422.1 979.5 423.2 980.3 424.3 980.9 C425.4 981.5 426.5 981.6 427.7 981.6 C428.9 981.6 430.0 981.6 431.3 981.0 C432.6 980.4 434.2 979.2 435.6 977.8 C437.1 976.3 438.5 974.8 440.0 972.3 C441.5 969.8 443.1 966.5 444.8 962.6 C446.5 958.7 448.6 953.6 450.4 948.7 C452.2 943.9 453.9 938.6 455.6 933.5 C457.3 928.4 458.8 923.4 460.6 918.2 C462.4 913.0 464.4 907.8 466.2 902.3 C468.0 896.8 469.7 891.0 471.5 885.4 C473.3 879.8 475.0 874.2 476.8 868.5 C478.6 862.8 480.6 856.4 482.3 850.9 C484.0 845.4 485.6 840.8 487.2 835.7 C488.8 830.6 490.4 825.6 492.0 820.5 C493.6 815.4 495.3 810.3 496.9 805.2 C498.5 800.1 500.6 793.5 501.7 790.0 C502.8 786.5 502.6 787.5 503.6 784.5 C504.6 781.5 506.3 776.1 507.8 772.0 C509.3 767.9 510.9 764.0 512.6 759.6 C514.3 755.2 516.4 750.6 518.2 745.7 C520.1 740.9 522.0 735.2 523.7 730.5 C525.4 725.8 527.0 721.8 528.6 717.5 C530.2 713.2 531.5 709.0 533.2 704.5 C534.9 700.0 536.9 694.8 538.8 690.6 C540.6 686.5 542.4 682.9 544.3 679.6 C546.1 676.3 548.0 673.5 549.9 670.6 C551.8 667.7 553.3 665.3 555.4 662.2 C557.5 659.1 560.2 655.1 562.3 651.9 C564.4 648.7 566.4 645.3 567.9 642.9 C569.4 640.5 570.1 639.1 571.3 637.7 C572.4 636.3 573.3 635.5 574.8 634.5 C576.3 633.5 578.4 632.8 580.3 631.8 C582.1 630.8 584.0 629.8 585.9 628.6 C587.8 627.4 589.5 626.0 591.4 624.6 C593.2 623.2 595.6 621.2 597.0 620.0 C598.4 618.8 598.4 618.5 599.8 617.2 C601.2 615.9 603.5 613.7 605.5 612.4 C607.5 611.1 608.9 610.5 612.1 609.3 C615.4 608.1 619.1 606.3 625.0 605.4 C630.9 604.5 641.6 603.8 647.5 603.8 C653.4 603.8 655.5 605.0 660.3 605.4 C665.1 605.8 671.6 606.3 676.4 606.0 C681.2 605.7 684.9 604.5 689.2 603.8 C693.5 603.1 698.4 602.0 702.1 601.6 C705.9 601.2 708.8 601.1 711.7 601.6 C714.7 602.1 717.9 603.7 719.8 604.4 C721.7 605.1 722.5 605.7 723.0 606.0" fill="none" stroke="#0000ff" stroke-width="2.70" stroke-linejoin="round"/>
<path d="M90.3 574.3 C100.2 574.3 131.7 574.5 150.0 574.5 C168.3 574.5 184.3 574.5 200.0 574.5 C215.7 574.5 226.2 574.6 244.0 574.5 C261.8 574.4 292.2 574.0 306.5 574.0 C320.8 574.0 322.6 574.5 330.0 574.8 C337.4 575.0 341.8 575.6 350.8 575.5 C359.9 575.4 372.1 574.7 384.3 574.3 C396.5 573.9 409.4 573.5 424.2 573.2 C439.0 572.9 460.4 572.7 473.0 572.7 C485.6 572.7 489.3 572.9 499.6 573.2 C509.9 573.5 524.8 574.4 535.0 574.6 C545.2 574.8 549.5 574.9 560.7 574.6 C572.0 574.3 589.3 573.1 602.5 572.6 C615.7 572.1 629.3 572.0 640.0 571.8 C650.7 571.6 659.6 571.2 666.7 571.3 C673.8 571.4 675.8 571.9 682.8 572.3 C689.8 572.7 701.8 573.8 708.5 573.9 C715.2 574.0 720.6 573.3 723.0 573.2" fill="none" stroke="#ff0000" stroke-width="2.35" stroke-linejoin="round"/>
<g stroke="#000" stroke-width="1.9" fill="none">
<line x1="90.2" y1="551.0" x2="90.2" y2="1005.0"/>
<line x1="89.2" y1="1004.0" x2="722" y2="1004.0"/>
<line x1="79.9" y1="985.5" x2="90.2" y2="985.5"/>
<line x1="79.9" y1="954.5" x2="90.2" y2="954.5"/>
<line x1="79.9" y1="923.6" x2="90.2" y2="923.6"/>
<line x1="79.9" y1="892.6" x2="90.2" y2="892.6"/>
<line x1="79.9" y1="861.6" x2="90.2" y2="861.6"/>
<line x1="79.9" y1="830.7" x2="90.2" y2="830.7"/>
<line x1="79.9" y1="799.7" x2="90.2" y2="799.7"/>
<line x1="79.9" y1="768.8" x2="90.2" y2="768.8"/>
<line x1="79.9" y1="737.8" x2="90.2" y2="737.8"/>
<line x1="79.9" y1="706.8" x2="90.2" y2="706.8"/>
<line x1="79.9" y1="675.9" x2="90.2" y2="675.9"/>
<line x1="79.9" y1="644.9" x2="90.2" y2="644.9"/>
<line x1="79.9" y1="613.9" x2="90.2" y2="613.9"/>
<line x1="79.9" y1="583.0" x2="90.2" y2="583.0"/>
<line x1="79.9" y1="552.0" x2="90.2" y2="552.0"/>
<line x1="84.4" y1="1001.0" x2="90.2" y2="1001.0"/>
<line x1="84.4" y1="970.0" x2="90.2" y2="970.0"/>
<line x1="84.4" y1="939.1" x2="90.2" y2="939.1"/>
<line x1="84.4" y1="908.1" x2="90.2" y2="908.1"/>
<line x1="84.4" y1="877.1" x2="90.2" y2="877.1"/>
<line x1="84.4" y1="846.2" x2="90.2" y2="846.2"/>
<line x1="84.4" y1="815.2" x2="90.2" y2="815.2"/>
<line x1="84.4" y1="784.2" x2="90.2" y2="784.2"/>
<line x1="84.4" y1="753.3" x2="90.2" y2="753.3"/>
<line x1="84.4" y1="722.3" x2="90.2" y2="722.3"/>
<line x1="84.4" y1="691.3" x2="90.2" y2="691.3"/>
<line x1="84.4" y1="660.4" x2="90.2" y2="660.4"/>
<line x1="84.4" y1="629.4" x2="90.2" y2="629.4"/>
<line x1="84.4" y1="598.4" x2="90.2" y2="598.4"/>
<line x1="84.4" y1="567.5" x2="90.2" y2="567.5"/>
<line x1="148.6" y1="1004.0" x2="148.6" y2="1013.6"/>
<line x1="365.6" y1="1004.0" x2="365.6" y2="1013.6"/>
<line x1="582.6" y1="1004.0" x2="582.6" y2="1013.6"/>
<line x1="257.1" y1="1004.0" x2="257.1" y2="1009.8"/>
<line x1="474.1" y1="1004.0" x2="474.1" y2="1009.8"/>
<line x1="691.1" y1="1004.0" x2="691.1" y2="1009.8"/>
</g>
<g font-size="17.8" fill="#000">
<text x="73.8" y="991.4" text-anchor="end">30</text>
<text x="73.8" y="960.4" text-anchor="end">35</text>
<text x="73.8" y="929.5" text-anchor="end">40</text>
<text x="73.8" y="898.5" text-anchor="end">45</text>
<text x="73.8" y="867.5" text-anchor="end">50</text>
<text x="73.8" y="836.6" text-anchor="end">55</text>
<text x="73.8" y="805.6" text-anchor="end">60</text>
<text x="73.8" y="774.7" text-anchor="end">65</text>
<text x="73.8" y="743.7" text-anchor="end">70</text>
<text x="73.8" y="712.7" text-anchor="end">75</text>
<text x="73.8" y="681.8" text-anchor="end">80</text>
<text x="73.8" y="650.8" text-anchor="end">85</text>
<text x="73.8" y="619.8" text-anchor="end">90</text>
<text x="73.8" y="588.9" text-anchor="end">95</text>
<text x="73.8" y="557.9" text-anchor="end">100</text>
<text x="148.8" y="1033.2" text-anchor="middle">1750</text>
<text x="365.8" y="1033.2" text-anchor="middle">1700</text>
<text x="582.8" y="1033.2" text-anchor="middle">1650</text>
</g>
<text x="308" y="1072.1" font-size="22.45" font-style="italic" fill="#000">Wavenumber / cm<tspan font-size="12.6" dy="-11" dx="0.6">-1</tspan></text>
<text transform="translate(35.8,758.5) rotate(-90)" font-size="22.2" font-style="italic" text-anchor="middle" fill="#000">Permeability / %</text>
<text transform="translate(0.4 576.8) scale(1.05 1)" font-size="35" fill="#000">b<tspan dx="0.9">)</tspan></text>
<g font-size="21.6" font-weight="bold" text-anchor="middle">
<text x="148.2" y="604" fill="#0000ff">BH6</text>
<text x="147" y="632" fill="#ff0000">AH12</text>
<text x="147.2" y="654.5" fill="#0f870f">HHH12</text>
</g>
<text transform="translate(386.7 630.7) scale(0.990 1)" font-size="22.8" fill="#0f870f" text-anchor="middle">1696</text>
<text transform="translate(472.8 985.8) scale(0.990 1)" font-size="22.8" fill="#0000ff" text-anchor="middle">1686</text>
</g>
</svg></body></html>
